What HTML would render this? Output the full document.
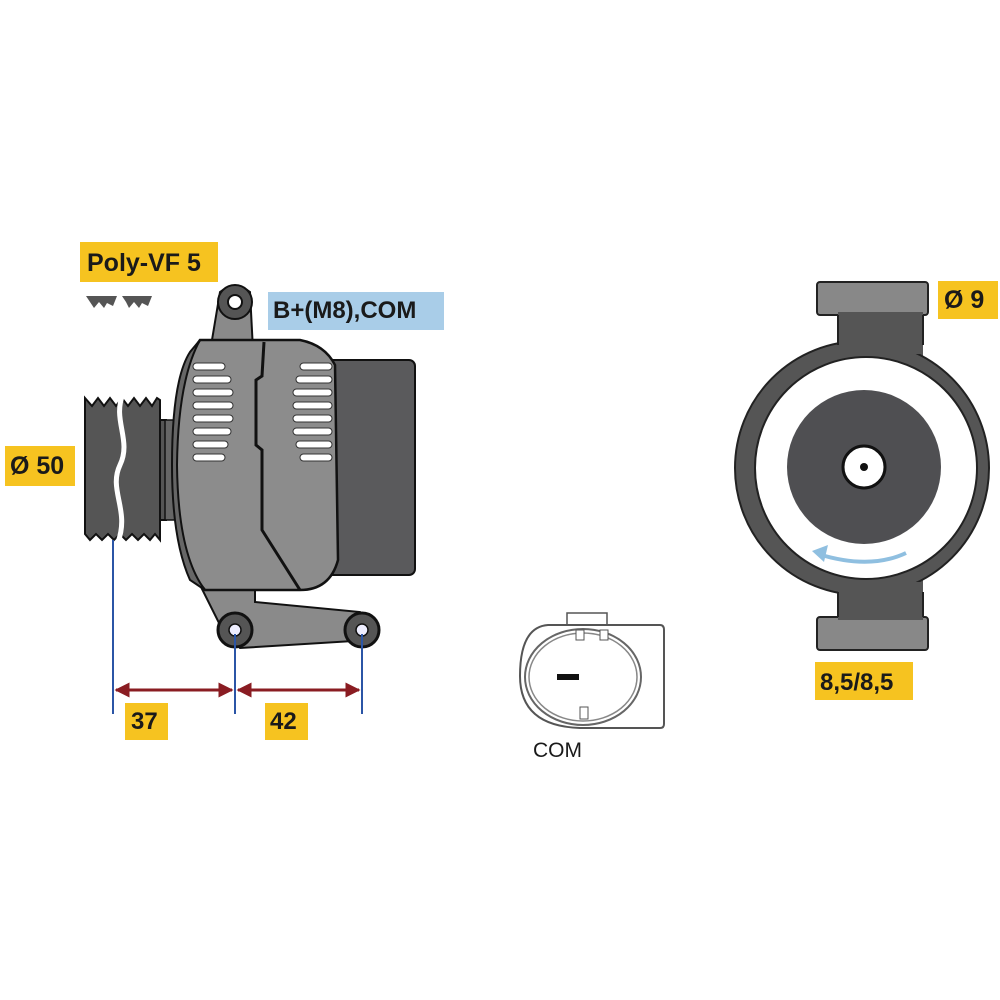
<!DOCTYPE html>
<html><head><meta charset="utf-8"><style>
html,body{margin:0;padding:0;background:#fff;}
svg{display:block}
text{font-family:"Liberation Sans",Arial,sans-serif;font-weight:bold;fill:#1a1a1a}
</style></head><body>
<svg width="1000" height="1000" viewBox="0 0 1000 1000" xmlns="http://www.w3.org/2000/svg">
<defs>
<marker id="ar" viewBox="0 0 10 10" refX="9" refY="5" markerWidth="5" markerHeight="5" orient="auto-start-reverse"><path d="M0,0 L10,5 L0,10 z" fill="#8a1c22"/></marker>
</defs>
<!-- labels -->
<rect x="80" y="242" width="138" height="40" fill="#f6c320"/>
<text x="87" y="271" font-size="25">Poly-VF 5</text>
<rect x="268" y="292" width="176" height="38" fill="#a9cde8"/>
<text x="273" y="318" font-size="24">B+(M8),COM</text>
<rect x="5" y="446" width="70" height="40" fill="#f6c320"/>
<text x="10" y="474" font-size="25">Ø 50</text>
<rect x="125" y="703" width="43" height="37" fill="#f6c320"/>
<text x="131" y="729" font-size="24">37</text>
<rect x="265" y="703" width="43" height="37" fill="#f6c320"/>
<text x="270" y="729" font-size="24">42</text>
<rect x="938" y="281" width="60" height="38" fill="#f6c320"/>
<text x="944" y="308" font-size="25">Ø 9</text>
<rect x="815" y="662" width="98" height="38" fill="#f6c320"/>
<text x="820" y="690" font-size="24" font-weight="normal" style="font-weight:bold">8,5/8,5</text>
<!-- poly V icon -->
<path d="M86,296 H117 L113,306 L107,303 L104,308 L99,302 L94,308 L90,302 Z M122,296 H152 L148,306 L142,303 L139,308 L134,302 L129,308 L126,302 Z" fill="#555"/>
<!-- bracket -->
<path d="M220,292 Q235,280 250,292 L253,350 L225,355 L212,340 Z" fill="#8a8a8a" stroke="#111" stroke-width="2"/>
<circle cx="235" cy="302" r="17" fill="#555" stroke="#111" stroke-width="2"/>
<circle cx="235" cy="302" r="7" fill="#fff" stroke="#111" stroke-width="2"/>
<path d="M195,575 L255,590 L255,602 L360,612 L370,640 L240,648 L220,625 Z" fill="#8a8a8a" stroke="#111" stroke-width="2"/>
<!-- back cap -->
<rect x="320" y="360" width="95" height="215" rx="6" fill="#5a5a5c" stroke="#111" stroke-width="2"/>
<!-- pulley -->
<rect x="140" y="420" width="26" height="100" fill="#555" stroke="#111" stroke-width="2"/>
<path d="M85,398 L92,406 L98,398 L104,406 L110,398 L116,406 L122,398 L128,406 L134,398 L140,406 L146,398 L152,406 L157,398 L160,400 L160,540 L155,534 L150,540 L144,534 L138,540 L132,534 L126,540 L120,534 L114,540 L108,534 L102,540 L96,534 L90,540 L85,534 Z" fill="#555" stroke="#111" stroke-width="2"/>
<path d="M123,394 C112,420 132,440 120,465 C108,490 130,510 118,542" fill="none" stroke="#fff" stroke-width="5"/>
<rect x="165" y="420" width="12" height="100" fill="#666" stroke="#111" stroke-width="1.5"/>
<!-- front housing -->
<path d="M200,340 L300,340 Q325,345 335,365 L338,560 Q330,590 300,590 L205,590 Q178,560 175,465 Q178,370 200,340 Z" fill="#8c8c8c" stroke="#111" stroke-width="2.5"/>
<path d="M200,340 Q178,380 177,465 Q178,555 205,590 L190,580 Q172,540 172,465 Q172,380 190,352 Z" fill="#666" stroke="#111" stroke-width="2"/>
<path d="M264,342 L262,376 L256,380 L256,445 L262,450 L262,530 L300,590" fill="none" stroke="#111" stroke-width="3"/>
<!-- slots -->
<g fill="#fff" stroke="#333" stroke-width="1">
<rect x="193" y="363" width="32" height="7" rx="3.5"/><rect x="193" y="376" width="38" height="7" rx="3.5"/><rect x="193" y="389" width="40" height="7" rx="3.5"/><rect x="193" y="402" width="40" height="7" rx="3.5"/><rect x="193" y="415" width="40" height="7" rx="3.5"/><rect x="193" y="428" width="38" height="7" rx="3.5"/><rect x="193" y="441" width="35" height="7" rx="3.5"/><rect x="193" y="454" width="32" height="7" rx="3.5"/>
<rect x="300" y="363" width="32" height="7" rx="3.5"/><rect x="296" y="376" width="36" height="7" rx="3.5"/><rect x="293" y="389" width="39" height="7" rx="3.5"/><rect x="293" y="402" width="39" height="7" rx="3.5"/><rect x="293" y="415" width="39" height="7" rx="3.5"/><rect x="293" y="428" width="39" height="7" rx="3.5"/><rect x="296" y="441" width="36" height="7" rx="3.5"/><rect x="300" y="454" width="32" height="7" rx="3.5"/>
</g>
<!-- bottom lugs -->
<circle cx="235" cy="630" r="17" fill="#555" stroke="#111" stroke-width="3"/>
<circle cx="235" cy="630" r="6" fill="#eef" stroke="#111" stroke-width="1.5"/>
<circle cx="362" cy="630" r="17" fill="#555" stroke="#111" stroke-width="3"/>
<circle cx="362" cy="630" r="6" fill="#eef" stroke="#111" stroke-width="1.5"/>
<!-- dimension lines -->
<g stroke="#2b55a6" stroke-width="2">
<line x1="113" y1="540" x2="113" y2="714"/>
<line x1="235" y1="634" x2="235" y2="714"/>
<line x1="362" y1="634" x2="362" y2="714"/>
</g>
<g stroke="#8a1c22" stroke-width="3">
<line x1="116" y1="690" x2="232" y2="690" marker-start="url(#ar)" marker-end="url(#ar)"/>
<line x1="238" y1="690" x2="359" y2="690" marker-start="url(#ar)" marker-end="url(#ar)"/>
</g>
<!-- connector -->
<rect x="567" y="613" width="40" height="14" fill="#fff" stroke="#555" stroke-width="1.5"/>
<path d="M548,625 L660,625 Q664,625 664,630 L664,724 Q664,728 660,728 L580,728 Q520,726 520,676 Q520,627 548,625 Z" fill="#fff" stroke="#555" stroke-width="2"/>
<ellipse cx="583" cy="677" rx="58" ry="48" fill="none" stroke="#666" stroke-width="2"/>
<ellipse cx="583" cy="677" rx="54" ry="44" fill="none" stroke="#888" stroke-width="1.5"/>
<rect x="576" y="630" width="8" height="10" fill="#fff" stroke="#555"/>
<rect x="600" y="630" width="8" height="10" fill="#fff" stroke="#555"/>
<rect x="580" y="707" width="8" height="12" fill="#fff" stroke="#555"/>
<rect x="557" y="674" width="22" height="6" fill="#111"/>
<text x="533" y="757" font-size="21" style="font-weight:normal">COM</text>
<!-- right view -->
<rect x="817" y="282" width="111" height="33" rx="3" fill="#888" stroke="#222" stroke-width="2"/>
<rect x="817" y="617" width="111" height="33" rx="3" fill="#888" stroke="#222" stroke-width="2"/>
<rect x="838" y="312" width="85" height="308" fill="#555"/>
<circle cx="862" cy="468" r="127" fill="#555" stroke="#222" stroke-width="2"/>
<rect x="838" y="314" width="85" height="40" fill="#555"/>
<rect x="838" y="582" width="85" height="36" fill="#555"/>
<line x1="838" y1="315" x2="838" y2="345" stroke="#222" stroke-width="2"/>
<line x1="923" y1="315" x2="923" y2="345" stroke="#222" stroke-width="2"/>
<line x1="838" y1="592" x2="838" y2="617" stroke="#222" stroke-width="2"/>
<line x1="923" y1="592" x2="923" y2="617" stroke="#222" stroke-width="2"/>
<circle cx="866" cy="468" r="111" fill="#fff" stroke="#222" stroke-width="2"/>
<circle cx="864" cy="467" r="77" fill="#4f4f52"/>
<circle cx="864" cy="467" r="21" fill="#fff" stroke="#111" stroke-width="3"/>
<circle cx="864" cy="467" r="4" fill="#111"/>
<path d="M906,553 Q870,570 818,554" fill="none" stroke="#8fbfe0" stroke-width="4"/>
<path d="M812,551 L828,545 L824,562 Z" fill="#8fbfe0"/>
</svg>
</body></html>
